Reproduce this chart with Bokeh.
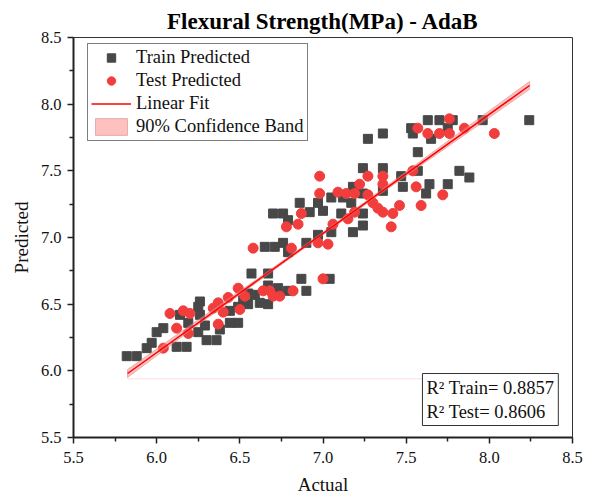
from bokeh.plotting import figure
from bokeh.models import Range1d, FixedTicker, PrintfTickFormatter, Label, Legend, LegendItem
from bokeh.embed import file_html
from bokeh.resources import INLINE

# ---- data ----
train_x = [5.82, 5.88, 5.94, 5.97, 6.00, 6.04, 6.12, 6.18, 6.14, 6.19, 6.25, 6.25, 6.26, 6.26,
           6.29, 6.30, 6.36, 6.38, 6.44, 6.49, 6.44, 6.49, 6.55, 6.59, 6.55, 6.62, 6.67, 6.57,
           6.67, 6.67, 6.73, 6.79, 6.87, 6.90, 7.04, 6.52, 6.65, 6.71, 6.76, 6.79, 6.90, 6.97,
           7.05, 6.70, 6.76, 6.79, 6.92, 7.00, 7.11, 7.24, 7.24, 7.18, 6.86, 6.97, 7.05, 7.12,
           7.17, 7.18, 7.24, 7.24, 7.36, 7.47, 7.57, 7.62, 7.48, 7.36, 7.64, 7.75, 7.82, 7.88,
           7.27, 7.36, 7.53, 7.54, 7.63, 7.70, 7.78, 7.65, 7.57, 7.75, 7.96, 8.24]
train_y = [6.11, 6.11, 6.17, 6.21, 6.29, 6.32, 6.18, 6.18, 6.42, 6.36, 6.29, 6.48, 6.42, 6.52,
           6.34, 6.23, 6.23, 6.31, 6.36, 6.36, 6.45, 6.48, 6.58, 6.57, 6.50, 6.51, 6.50, 6.73,
           6.73, 6.64, 6.62, 6.60, 6.69, 6.60, 6.69, 6.53, 6.93, 6.93, 6.96, 6.89, 6.96, 7.02,
           7.04, 7.18, 7.18, 7.13, 7.19, 7.20, 7.18, 7.18, 7.09, 7.04, 7.26, 7.26, 7.30, 7.30,
           7.26, 7.38, 7.33, 7.52, 7.52, 7.46, 7.50, 7.33, 7.38, 7.35, 7.40, 7.40, 7.50, 7.45,
           7.74, 7.78, 7.82, 7.78, 7.88, 7.88, 7.88, 7.74, 7.64, 7.82, 7.88, 7.88]

test_x = [6.04, 6.08, 6.16, 6.20, 6.12, 6.19, 6.34, 6.37, 6.40, 6.37, 6.43, 6.49, 6.53, 6.50,
          6.64, 6.68, 6.70, 6.74, 6.82, 7.00, 6.58, 6.81, 6.97, 7.03, 6.87, 6.78, 6.85, 7.06,
          7.15, 7.19, 6.98, 6.98, 7.09, 7.14, 7.19, 7.22, 7.27, 7.36, 7.36, 7.27, 7.30, 7.33,
          7.36, 7.42, 7.46, 7.41, 7.54, 7.56, 7.59, 7.72, 7.57, 7.63, 7.70, 7.76, 7.76, 7.85, 8.03]
test_y = [6.17, 6.43, 6.45, 6.43, 6.32, 6.28, 6.47, 6.51, 6.44, 6.35, 6.55, 6.62, 6.56, 6.46,
          6.60, 6.60, 6.56, 6.56, 6.60, 6.69, 6.92, 6.92, 6.96, 6.95, 7.18, 7.08, 7.10, 7.10,
          7.14, 7.19, 7.46, 7.33, 7.34, 7.33, 7.33, 7.40, 7.46, 7.46, 7.40, 7.32, 7.26, 7.22,
          7.19, 7.18, 7.24, 7.08, 7.50, 7.38, 7.24, 7.32, 7.82, 7.78, 7.78, 7.78, 7.89, 7.82, 7.78]

fit_x = [5.825, 8.242]
fit_y = [5.98, 8.14]

band_x = [5.825, 6.2, 6.6, 6.95, 7.3, 7.7, 8.242]
band_lo = [5.95, 6.30, 6.661, 6.976, 7.287, 7.637, 8.111]
band_hi = [6.01, 6.34, 6.685, 6.996, 7.311, 7.677, 8.171]

floor_x = [5.825, 7.60]
floor_y = [5.94, 5.94]

ticks = [5.5, 6.0, 6.5, 7.0, 7.5, 8.0, 8.5]
minor = [5.75, 6.25, 6.75, 7.25, 7.75, 8.25]

r2_text = "R\u00b2 Train= 0.8857\nR\u00b2 Test= 0.8606"

FONT = "Liberation Serif"

p = figure(width=592, height=499, x_range=Range1d(5.5, 8.5), y_range=Range1d(5.5, 8.5),
           output_backend="svg", toolbar_location=None,
           min_border_left=73, min_border_right=20, min_border_top=37, min_border_bottom=62,
           title="Flexural Strength(MPa) - AdaB")
p.title.text_font = FONT
p.title.text_font_style = "bold"
p.title.text_font_size = "23px"
p.title.align = "center"
p.title.text_color = "#000000"
p.title.standoff = 8

p.xgrid.visible = False
p.ygrid.visible = False
p.outline_line_color = "#333333"
p.outline_line_width = 1
p.background_fill_color = "white"
p.border_fill_color = "white"

for ax in (p.xaxis[0], p.yaxis[0]):
    ax.ticker = FixedTicker(ticks=ticks, minor_ticks=minor)
    ax.formatter = PrintfTickFormatter(format="%.1f")
    ax.axis_line_width = 2
    ax.axis_line_color = "#222222"
    ax.major_tick_line_color = "#222222"
    ax.minor_tick_line_color = "#222222"
    ax.major_tick_line_width = 1.5
    ax.minor_tick_line_width = 1.5
    ax.major_tick_out = 6
    ax.major_tick_in = 0
    ax.minor_tick_out = 4
    ax.minor_tick_in = 0
    ax.major_label_text_font = FONT
    ax.major_label_text_font_size = "16.5px"
    ax.major_label_text_color = "#111111"
    ax.axis_label_text_font = FONT
    ax.axis_label_text_font_size = "19px"
    ax.axis_label_text_font_style = "normal"
    ax.axis_label_text_color = "#111111"

p.xaxis[0].axis_label = "Actual"
p.yaxis[0].axis_label = "Predicted"
p.xaxis[0].major_label_standoff = 8
p.yaxis[0].major_label_standoff = 6
p.xaxis[0].axis_label_standoff = 8
p.yaxis[0].axis_label_standoff = 6

p.line(floor_x, floor_y, line_color="#ffdcdc", line_width=1)

r_train = p.scatter(train_x, train_y, marker="square", size=9, fill_color="#484848",
                    line_color="#484848")
r_test = p.scatter(test_x, test_y, marker="circle", size=10, fill_color="#f23d3d",
                   line_color="#f23d3d")
r_band = p.patch(x=band_x + band_x[::-1], y=band_lo + band_hi[::-1],
                 fill_color="#ff8c8c", fill_alpha=0.55,
                 line_color="#c07878", line_alpha=0.45, line_width=1)
r_line = p.line(fit_x, fit_y, line_color="#ff0000", line_width=1.5)

legend = Legend(items=[
    LegendItem(label="Train Predicted", renderers=[r_train]),
    LegendItem(label="Test Predicted", renderers=[r_test]),
    LegendItem(label="Linear Fit", renderers=[r_line]),
    LegendItem(label="90% Confidence Band", renderers=[r_band]),
], location=(14, 296))
legend.label_text_font = FONT
legend.label_text_font_size = "18.5px"
legend.label_text_color = "#111111"
legend.border_line_color = "#000000"
legend.border_line_width = 1
legend.background_fill_alpha = 1
legend.glyph_width = 40
legend.glyph_height = 21
legend.label_height = 21
legend.label_standoff = 5
legend.spacing = 2
legend.padding = 3
legend.margin = 0
p.add_layout(legend)

lab = Label(x=7.598, y=5.59, text=r2_text, anchor="bottom_left",
            text_font=FONT, text_font_size="18.5px", text_color="#111111",
            border_line_color="#333333", border_line_width=1,
            background_fill_color="white", background_fill_alpha=1, padding=4)
p.add_layout(lab)

open("out.html", "w").write(file_html(p, INLINE))
